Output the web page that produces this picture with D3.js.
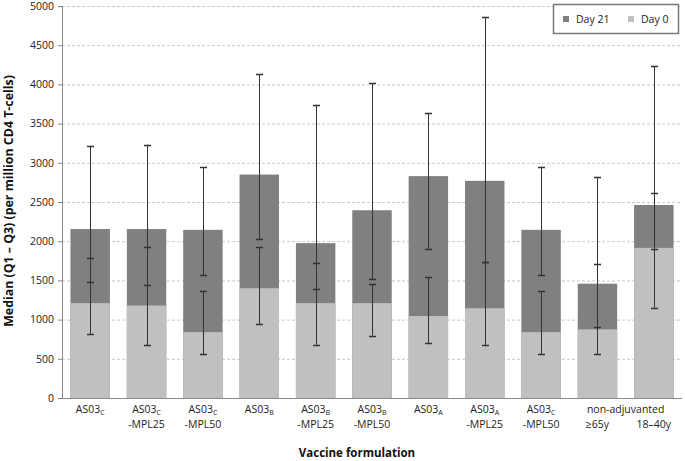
<!DOCTYPE html>
<html><head><meta charset="utf-8">
<script src="https://cdn.jsdelivr.net/npm/d3@7"></script>
<style>body{margin:0;background:#fff;} svg{display:block;font-family:"Open Sans",sans-serif;}</style>
</head><body><svg id="c" width="685" height="461"></svg>
<script>
const categories = ["AS03C","AS03C-MPL25","AS03C-MPL50","AS03B","AS03B-MPL25","AS03B-MPL50","AS03A","AS03A-MPL25","AS03C-MPL50","non-adjuvanted ≥65y","non-adjuvanted 18–40y"];
const labelMain = ["AS03","AS03","AS03","AS03","AS03","AS03","AS03","AS03","AS03","",""];
const labelSub  = ["C","C","C","B","B","B","A","A","C","",""];
const labelLine2 = ["","-MPL25","-MPL50","","-MPL25","-MPL50","","-MPL25","-MPL50","≥65y","18–40y"];
const day0  = [1210,1180,840,1400,1210,1210,1045,1145,840,875,1915];
const day21 = [2155,2155,2145,2850,1975,2395,2830,2770,2145,1458,2462];
const day0Q1 = [815,670,557,940,680,795,697,672,560,560,1152];
const day0Q3 = [1790,1930,1362,1922,1722,1450,1543,1730,1362,1705,2619];
const day21Q1 = [1482,1445,1565,2028,1390,1518,1905,1740,1565,900,1897];
const day21Q3 = [3215,3230,2946,4132,3740,4014,3631,4855,2948,2815,4235];
const yTicks = [0,500,1000,1500,2000,2500,3000,3500,4000,4500,5000];
const legendLabels = ["Day 21","Day 0"];

const svg = d3.select("#c");
const L = 62, R = 682, T = 6, B = 398;
const x = d3.scaleBand().domain(d3.range(categories.length)).range([L,R]).paddingInner(0.3).paddingOuter(0.15);
const y = d3.scaleLinear().domain([0,5000]).range([B,T]);
const cDark = "#808080", cLight = "#c0c0c0";
const FS = 10.5;

// gridlines
svg.append("g").selectAll("line").data(yTicks.filter(d=>d>0)).join("line")
  .attr("x1",L).attr("x2",R).attr("y1",d=>y(d)+0.5).attr("y2",d=>y(d)+0.5)
  .attr("stroke","#c8c8c8").attr("stroke-dasharray","3,2").attr("stroke-width",1);

// bars
const idx = d3.range(categories.length);
svg.append("g").selectAll("rect").data(idx).join("rect")
  .attr("x",i=>x(i)).attr("width",x.bandwidth())
  .attr("y",i=>y(day21[i])).attr("height",i=>B-y(day21[i])).attr("fill",cDark);
svg.append("g").selectAll("rect").data(idx).join("rect")
  .attr("x",i=>x(i)).attr("width",x.bandwidth())
  .attr("y",i=>y(day0[i])).attr("height",i=>B-y(day0[i])).attr("fill",cLight);

// error bars
function err(lo, hi){
  const g = svg.append("g").attr("stroke","#333").attr("stroke-width",1);
  idx.forEach(i=>{
    const cx = Math.round(x(i)+x.bandwidth()/2)+0.5;
    g.append("line").attr("x1",cx).attr("x2",cx).attr("y1",y(lo[i])).attr("y2",y(hi[i]));
    [lo[i],hi[i]].forEach(v=>{
      g.append("line").attr("x1",cx-3.5).attr("x2",cx+3.5).attr("y1",Math.round(y(v))+0.5).attr("y2",Math.round(y(v))+0.5).attr("stroke-width",1.5);
    });
  });
}
err(day0Q1, day0Q3);
err(day21Q1, day21Q3);

// y axis
const ya = d3.axisLeft(y).tickValues(yTicks).tickFormat(d3.format("d")).tickSize(4).tickPadding(4);
const yg = svg.append("g").attr("transform",`translate(${L},0)`).call(ya);
yg.select(".domain").attr("stroke","#888");
yg.selectAll(".tick line").attr("stroke","#888");
yg.selectAll("text").attr("font-size",FS).attr("fill","#222").attr("font-family","'Open Sans',sans-serif");

// x axis line
svg.append("line").attr("x1",L).attr("x2",R).attr("y1",B+0.5).attr("y2",B+0.5).attr("stroke","#888").attr("stroke-width",1);

// x labels
const xl = svg.append("g").attr("font-size",FS).attr("fill","#222").attr("text-anchor","middle");
idx.forEach(i=>{
  const cx = x(i)+x.bandwidth()/2;
  if(labelMain[i]){
    const t = xl.append("text").attr("x",cx).attr("y",413);
    t.append("tspan").text(labelMain[i]);
    t.append("tspan").attr("font-size",7).attr("dy",2).text(labelSub[i]);
  }
  if(labelLine2[i]) xl.append("text").attr("x",cx).attr("y",428).text(labelLine2[i]);
});
xl.append("text").attr("x",(x(9)+x(10)+x.bandwidth())/2).attr("y",413).text("non-adjuvanted");

// axis titles
svg.append("text").attr("x",357).attr("y",457).attr("text-anchor","middle").attr("font-weight","bold").attr("font-size",11.5).attr("fill","#111").text("Vaccine formulation");
const yt = svg.append("text").attr("transform","translate(13,201) rotate(-90)").attr("text-anchor","middle").attr("font-weight","bold").attr("font-size",11).attr("fill","#111").text("Median (Q1 – Q3) (per million CD4 T-cells)");
const len = yt.node().getComputedTextLength();
yt.attr("font-size", 11*252/len);

// legend
const lg = svg.append("g");
lg.append("rect").attr("x",553.5).attr("y",4.5).attr("width",125).attr("height",29).attr("fill","#fff").attr("stroke","#777").attr("stroke-width",1.5);
const lc = [cDark,cLight], lx = [563,628];
legendLabels.forEach((s,k)=>{
  lg.append("rect").attr("x",lx[k]).attr("y",16).attr("width",6).attr("height",6).attr("fill",lc[k]);
  lg.append("text").attr("x",lx[k]+13).attr("y",23).attr("font-size",FS).attr("fill","#222").text(s);
});
</script></body></html>
